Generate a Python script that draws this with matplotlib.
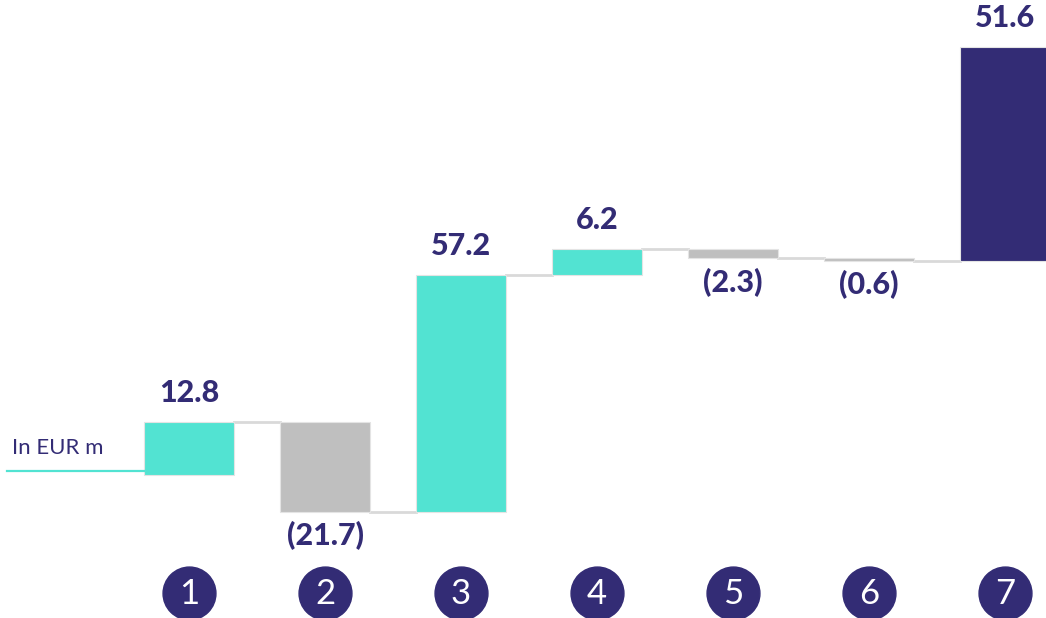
import matplotlib.pyplot as plt
import numpy as np

plt.rcParams['font.family'] = ['Lato', 'DejaVu Sans']

# waterfall steps, last one is the total
steps = ['1', '2', '3', '4', '5', '6', '7']
values = [12.8, -21.7, 57.2, 6.2, -2.3, -0.6, 51.6]
labels = ['12.8', '(21.7)', '57.2', '6.2', '(2.3)', '(0.6)', '51.6']

navy = '#332c75'
teal = '#52e3d2'
grey = '#bfbfbf'
connector = '#d9d9d9'

fig = plt.figure(figsize=(10.46, 6.18), dpi=100)
ax = fig.add_axes([0, 0, 1, 1])

x = np.arange(len(steps))
width = 0.66

bottoms = []
colors = []
run = 0.0
for i, v in enumerate(values):
    bottoms.append(run)
    if i == len(values) - 1:
        colors.append(navy)
    else:
        colors.append(teal if v > 0 else grey)
        run += v

ax.bar(x, values, width, bottom=bottoms, color=colors,
       edgecolor='#e4e4e4', linewidth=0.8, zorder=2)

# connectors between bars
for i in range(len(values) - 1):
    level = bottoms[i + 1]
    ax.plot([x[i] + width / 2, x[i + 1] - width / 2], [level, level],
            color=connector, lw=2, zorder=1)

# value labels
for i, v in enumerate(values):
    top = bottoms[i] + v
    if v >= 0:
        ax.text(x[i], top + 3.6, labels[i], ha='center', va='bottom',
                fontsize=22, fontweight='black', color=navy)
    else:
        ax.text(x[i], top - 2.3, labels[i], ha='center', va='top',
                fontsize=22, fontweight='black', color=navy)

# numbered markers below
circle_y = -28.4
ax.scatter(x, [circle_y] * len(x), s=1450, color=navy, zorder=3)
for i, s in enumerate(steps):
    ax.text(x[i], circle_y - 0.3, s, ha='center', va='center',
            fontsize=25, color='white', zorder=4)

# unit note with baseline
ax.plot([-1.34, x[0] - width / 2], [0.9, 0.9], color=teal, lw=1.6)
ax.text(-1.30, 6.6, 'In EUR m', ha='left', va='center', fontsize=16,
        color=navy)

ax.set_xlim(-1.39, 6.30)
ax.set_ylim(-34.5, 114.5)
ax.axis('off')

fig.savefig('out.png', dpi=100)
